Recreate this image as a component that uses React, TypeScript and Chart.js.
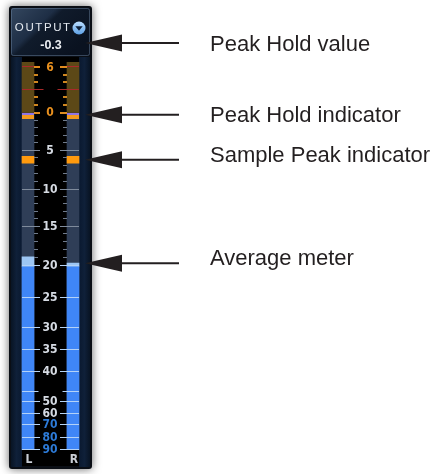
import React, { useEffect, useRef } from 'react';
import { Chart, registerables } from 'chart.js';

Chart.register(...registerables);

// ---- data ----
const channels = ['L', 'R'];
const averageDb = [-20.1, -20.1];
const peakDb = [-18.9, -19.7];
const samplePeakDb = [-5.8, -5.8];
const peakHoldDb = [-0.3, -0.3];
const peakHoldValue = -0.3;

// ---- scale definition (meter law: dB -> meter units) ----
const meterLawDb = [6.6, 6, 0, -5, -10, -15, -20, -25, -30, -35, -40, -45, -50, -60, -70, -80, -90, -92];
const meterLawPos = [388, 383, 337.5, 300, 261, 224, 184.5, 153, 123, 101, 79, 59, 49, 37, 25.5, 13, 1, 0];

const scaleLabelDb = [6, 0, -5, -10, -15, -20, -25, -30, -35, -40, -50, -60, -70, -80, -90];
const redLineDb = [6, 3];
const unlabeledMajorDb = [3, -45];
const minorTickDb = [5, 4, 2, 1, -1, -2, -3, -4, -6, -7, -8, -9, -11, -12, -13, -14, -16, -17, -18, -19];

const annotationLabels = ['Peak Hold value', 'Peak Hold indicator', 'Sample Peak indicator', 'Average meter'];

function pos(db: number): number {
  if (db >= meterLawDb[0]) return meterLawPos[0];
  for (let i = 0; i < meterLawDb.length - 1; i++) {
    const a = meterLawDb[i];
    const b = meterLawDb[i + 1];
    if (db <= a && db >= b) {
      const t = (a - db) / (a - b);
      return meterLawPos[i] + t * (meterLawPos[i + 1] - meterLawPos[i]);
    }
  }
  return meterLawPos[meterLawPos.length - 1];
}

const FLOOR = meterLawPos[meterLawPos.length - 1];
const TOP = meterLawPos[0];

const LABEL_FONT = 'bold 12px "Liberation Sans Narrow", "DejaVu Sans Condensed", sans-serif';
const ANNOT_FONT = '22px "Liberation Sans", Arial, sans-serif';

const meterPlugin = {
  id: 'meterChrome',
  beforeDraw(chart: any) {
    const ctx = chart.ctx as CanvasRenderingContext2D;
    const x = chart.scales.x;
    const half = 6;
    const lOuter = x.getPixelForValue(0) - half;
    const rOuter = x.getPixelForValue(1) + half;
    ctx.save();
    ctx.fillStyle = '#ffffff';
    ctx.fillRect(0, 0, chart.width, chart.height);
    // panel with shadow
    ctx.shadowColor = 'rgba(0,0,0,0.6)';
    ctx.shadowBlur = 10;
    ctx.fillStyle = '#0a0e15';
    ctx.beginPath();
    ctx.roundRect(9, 6, 83, 463, 3);
    ctx.fill();
    ctx.restore();

    ctx.save();
    // header
    const g = ctx.createLinearGradient(11, 8, 62, 62);
    g.addColorStop(0, '#34475f');
    g.addColorStop(0.42, '#1e2e45');
    g.addColorStop(0.5, '#101b2b');
    g.addColorStop(1, '#0a1220');
    ctx.fillStyle = g;
    ctx.beginPath();
    ctx.roundRect(11, 8, 79, 48, 2);
    ctx.fill();
    ctx.strokeStyle = 'rgba(110,135,165,0.45)';
    ctx.lineWidth = 1;
    ctx.beginPath();
    ctx.roundRect(11.5, 8.5, 78, 47, 2);
    ctx.stroke();
    // rails
    const rg = ctx.createLinearGradient(11, 0, 22, 0);
    rg.addColorStop(0, '#081424');
    rg.addColorStop(0.5, '#0f2039');
    rg.addColorStop(1, '#0a1930');
    ctx.fillStyle = rg;
    ctx.fillRect(11, 57, lOuter - 11, 410);
    const rg2 = ctx.createLinearGradient(rOuter, 0, 90, 0);
    rg2.addColorStop(0, '#0a1930');
    rg2.addColorStop(0.5, '#0f2039');
    rg2.addColorStop(1, '#081424');
    ctx.fillStyle = rg2;
    ctx.fillRect(rOuter, 57, 90 - rOuter, 410);
    // black inner
    ctx.fillStyle = '#000000';
    ctx.fillRect(lOuter, 57, rOuter - lOuter, 409);
    ctx.restore();
  },
  afterDatasetsDraw(chart: any) {
    const ctx = chart.ctx as CanvasRenderingContext2D;
    const xs = chart.scales.x;
    const ys = chart.scales.y;
    const half = 6;
    const xL = xs.getPixelForValue(0);
    const xR = xs.getPixelForValue(1);
    const lOuter = xL - half;
    const lInner = xL + half;
    const rInner = xR - half;
    const rOuter = xR + half;
    const cx = (lInner + rInner) / 2;
    const yPx = (db: number) => ys.getPixelForValue(pos(db));
    const hline = (x1: number, x2: number, y: number, color: string, t = 1) => {
      ctx.fillStyle = color;
      ctx.fillRect(x1, Math.round(y - t / 2), x2 - x1, t);
    };
    ctx.save();
    // minor ticks
    minorTickDb.forEach((d) => {
      const y = yPx(d);
      const c = d > 0 ? '#cf861f' : '#6f7b8c';
      hline(lInner, lInner + 4, y, c, d > 0 ? 2 : 1);
      hline(rInner - 4, rInner, y, c, d > 0 ? 2 : 1);
    });
    // red lines
    redLineDb.forEach((d) => {
      const y = yPx(d);
      hline(lOuter, lInner, y, '#a8292a', 1);
      hline(rInner, rOuter, y, '#a8292a', 1);
    });
    // unlabeled majors
    unlabeledMajorDb.forEach((d) => {
      const y = yPx(d);
      if (d > 0) {
        hline(lInner, cx - 7, y, '#a8292a', 1);
        hline(cx + 7, rInner, y, '#a8292a', 1);
      } else {
        hline(lOuter, cx - 12, y, '#b3d2f7', 1);
        hline(cx + 12, rOuter, y, '#b3d2f7', 1);
      }
    });
    // labeled majors
    ctx.font = LABEL_FONT;
    ctx.textAlign = 'center';
    ctx.textBaseline = 'middle';
    scaleLabelDb.forEach((d) => {
      const y = yPx(d);
      let lineC = '#b3d2f7';
      let textC = '#d6dbe3';
      if (d >= 0) {
        lineC = '#e08c1f';
        textC = '#e8901f';
      } else if (d > -20) {
        lineC = '#7f8b9c';
      } else if (d <= -70) {
        textC = '#2d7bd8';
      }
      if (d < 0) {
        hline(lOuter, lInner, y, lineC, 1);
        hline(rInner, rOuter, y, lineC, 1);
      }
      hline(lInner, cx - 10.5, y, lineC, d >= 0 ? 2 : 1);
      hline(cx + 9.5, rInner, y, lineC, d >= 0 ? 2 : 1);
      ctx.fillStyle = textC;
      ctx.fillText(String(Math.abs(d)), cx - 0.5, y + 0.5);
    });
    // channel labels
    ctx.fillStyle = '#c9ced6';
    channels.forEach((c, i) => {
      ctx.fillText(c, xs.getPixelForValue(i) + 1, 459.5);
    });

    // header text
    ctx.font = '11.5px "Liberation Sans", Arial, sans-serif';
    ctx.fillStyle = '#e4e9f0';
    ctx.textAlign = 'left';
    const title = 'OUTPUT';
    const sp = 1.6;
    let total = 0;
    for (const ch of title) total += ctx.measureText(ch).width;
    total += sp * (title.length - 1);
    let tx = 42.5 - total / 2;
    for (const ch of title) {
      ctx.fillText(ch, tx, 28);
      tx += ctx.measureText(ch).width + sp;
    }
    // dropdown icon
    const ig = ctx.createLinearGradient(0, 21, 0, 35);
    ig.addColorStop(0, '#bfe0ff');
    ig.addColorStop(1, '#5a9fe6');
    ctx.beginPath();
    ctx.arc(79, 28, 6.5, 0, Math.PI * 2);
    ctx.fillStyle = ig;
    ctx.fill();
    ctx.beginPath();
    ctx.moveTo(75.3, 26.3);
    ctx.lineTo(82.7, 26.3);
    ctx.lineTo(79, 30.8);
    ctx.closePath();
    ctx.fillStyle = '#0d1f38';
    ctx.fill();
    // peak hold value
    ctx.font = 'bold 12.5px "Liberation Sans", Arial, sans-serif';
    ctx.fillStyle = '#eceff3';
    ctx.textAlign = 'center';
    ctx.fillText(peakHoldValue.toFixed(1), 51, 45.5);
    ctx.restore();
  },
  afterDraw(chart: any) {
    const ctx = chart.ctx as CanvasRenderingContext2D;
    const ys = chart.scales.y;
    const yPx = (db: number) => ys.getPixelForValue(pos(db));
    const arrowYs = [43, yPx(peakHoldDb[0]), yPx(samplePeakDb[0] - 0.45), yPx(peakDb[1])];
    const baseOffsets = [8, 7, 2.5, 1.5];
    ctx.save();
    ctx.fillStyle = '#231f20';
    ctx.strokeStyle = '#231f20';
    ctx.font = ANNOT_FONT;
    ctx.textAlign = 'left';
    ctx.textBaseline = 'alphabetic';
    arrowYs.forEach((y, i) => {
      ctx.lineWidth = 2;
      ctx.beginPath();
      ctx.moveTo(118, y);
      ctx.lineTo(179, y);
      ctx.stroke();
      ctx.beginPath();
      ctx.moveTo(85, y);
      ctx.lineTo(122, y - 8.5);
      ctx.lineTo(122, y + 8.5);
      ctx.closePath();
      ctx.fill();
      ctx.fillText(annotationLabels[i], 210, y + baseOffsets[i]);
    });
    ctx.restore();
  },
};

export default function App() {
  const ref = useRef<HTMLCanvasElement>(null);
  useEffect(() => {
    const common = { grouped: false, barThickness: 12, borderWidth: 0 };
    const chart = new Chart(ref.current as HTMLCanvasElement, {
      type: 'bar',
      data: {
        labels: channels,
        datasets: [
          {
            ...common,
            label: 'Peak Hold',
            data: peakHoldDb.map((d) => [pos(d - 0.55), pos(d + 0.2)]),
            backgroundColor: '#f29a1e',
            borderColor: '#8f74e6',
            borderWidth: { top: 2, left: 0, right: 0, bottom: 0 },
            borderSkipped: false,
            order: 1,
          },
          {
            ...common,
            label: 'Sample Peak',
            data: samplePeakDb.map((d) => [pos(d - 0.9), pos(d)]),
            backgroundColor: '#ff9a0e',
            order: 2,
          },
          {
            ...common,
            label: 'Peak',
            data: channels.map((_, i) => [pos(averageDb[i]), pos(peakDb[i])]),
            backgroundColor: '#9cc6f4',
            order: 3,
          },
          {
            ...common,
            label: 'Average',
            data: averageDb.map((d) => [FLOOR, pos(d)]),
            backgroundColor: '#3f86f7',
            order: 4,
          },
          {
            ...common,
            label: 'Headroom',
            data: channels.map(() => [pos(0), TOP]),
            backgroundColor: '#5c4817',
            order: 5,
          },
          {
            ...common,
            label: 'Unlit',
            data: channels.map(() => [FLOOR, pos(0)]),
            backgroundColor: '#2f3e57',
            order: 6,
          },
        ] as any,
      },
      options: {
        responsive: false,
        animation: false,
        devicePixelRatio: 1,
        events: [],
        layout: { padding: { left: 5.5, right: 340.5, top: 62, bottom: 24 } },
        plugins: { legend: { display: false }, tooltip: { enabled: false } },
        scales: {
          x: { display: false, grid: { display: false } },
          y: { display: false, min: FLOOR, max: TOP, grid: { display: false } },
        },
      },
      plugins: [meterPlugin],
    } as any);
    return () => chart.destroy();
  }, []);
  return (
    <div style={{ position: 'absolute', left: 0, top: 0, width: 436, height: 474, background: '#fff' }}>
      <canvas ref={ref} width={436} height={474} style={{ display: 'block', width: 436, height: 474 }} />
    </div>
  );
}
